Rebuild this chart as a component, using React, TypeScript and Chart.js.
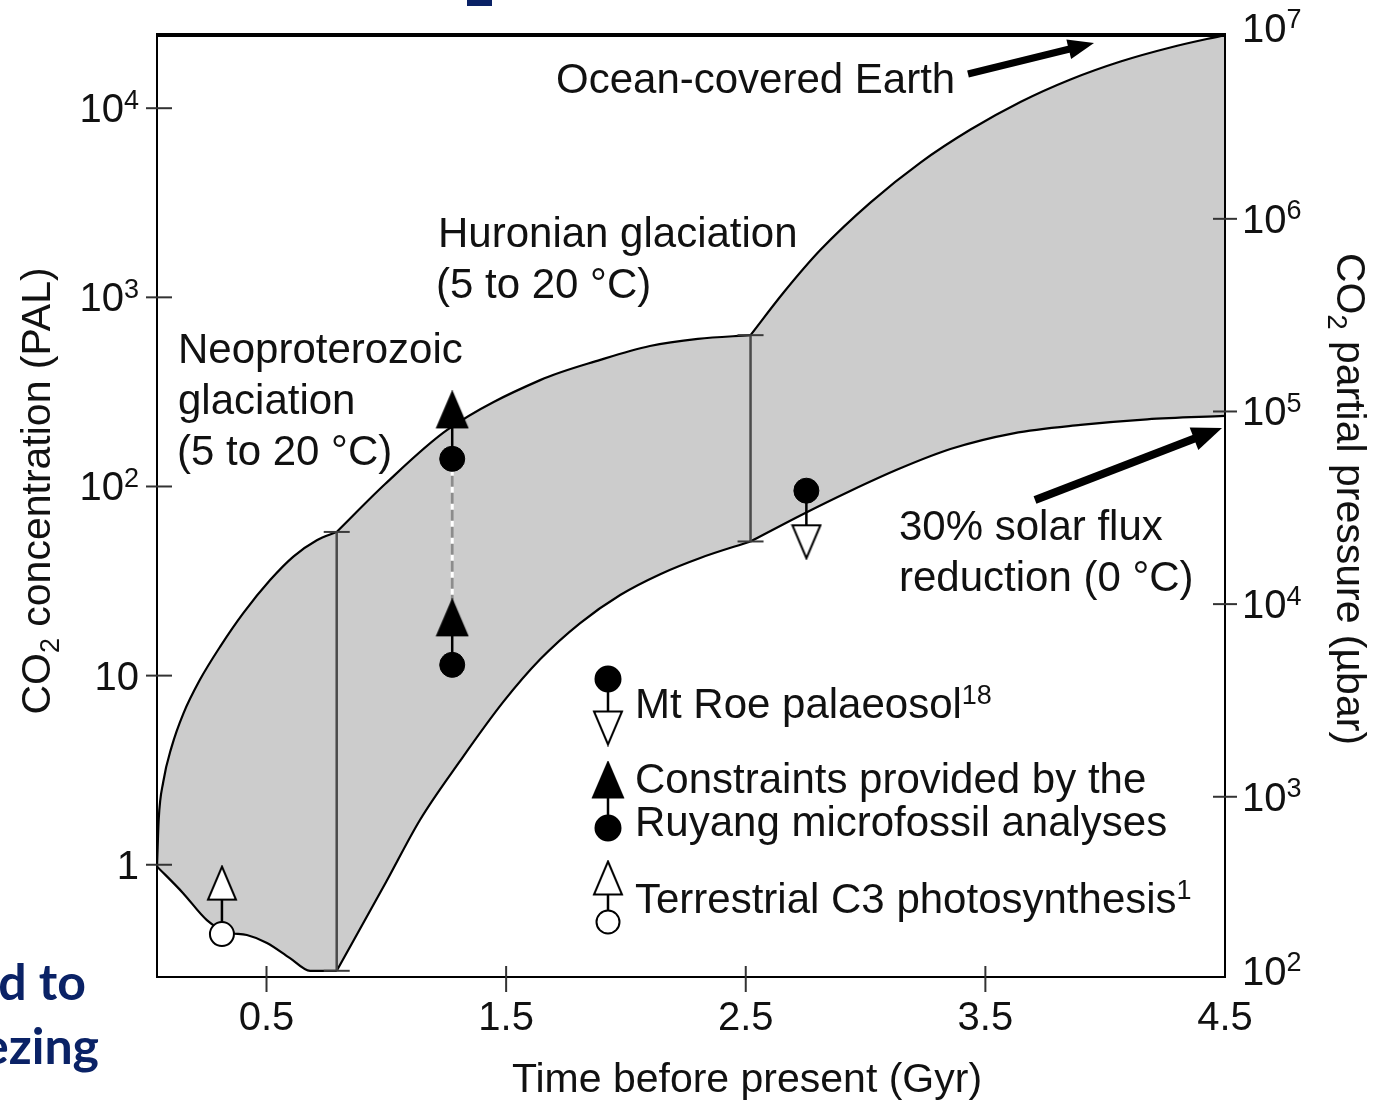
import React, { useEffect, useRef } from 'react';
import { Chart, registerables } from 'chart.js';

Chart.register(...registerables);

const W = 1373;
const H = 1101;
const FONT = '"Liberation Sans", Arial, Helvetica, sans-serif';

// ---------- axes ----------
const timeMin = 0.043;
const timeMax = 4.5;
const palMin = 0.255;
const palMax = 24380;
const ubarMin = 116;
const ubarMax = 9.0e6;

const timeTicks = [0.5, 1.5, 2.5, 3.5, 4.5];
const timeTickLabels = ['0.5', '1.5', '2.5', '3.5', '4.5'];
const palTicks = [1, 10, 100, 1000, 10000];
const palTickBases = ['1', '10', '10', '10', '10'];
const palTickExps = ['', '', '2', '3', '4'];
const ubarTicks = [1e3, 1e4, 1e5, 1e6];
const ubarTickExps = ['3', '4', '5', '6'];
const ubarTopExp = '7';
const ubarBottomExp = '2';

// ---------- CO2 band (PAL) ----------
const upper1Time = [0.043, 0.05, 0.069, 0.104, 0.153, 0.222, 0.306, 0.403, 0.515, 0.612, 0.71, 0.793];
const upper1Pal = [0.98, 1.73, 2.74, 4.2, 6.3, 9.5, 14.2, 21.4, 32, 42.6, 52, 57.5];
const lower1Time = [0.043, 0.151, 0.251, 0.335, 0.418, 0.502, 0.598, 0.682, 0.793];
const lower1Pal = [0.98, 0.71, 0.51, 0.44, 0.425, 0.386, 0.321, 0.275, 0.275];

const upper2Time = [0.793, 0.995, 1.254, 1.642, 1.893, 2.1, 2.3, 2.52];
const upper2Pal = [57.5, 103, 199, 365, 467, 553, 603, 631];
const lower2Time = [0.793, 0.999, 1.141, 1.308, 1.488, 1.642, 1.809, 1.976, 2.143, 2.31, 2.52];
const lower2Pal = [0.275, 0.81, 1.73, 3.54, 7.26, 12.2, 18.97, 26.7, 34.4, 41.9, 51.2];

const upper3Time = [2.52, 2.657, 2.811, 3.02, 3.229, 3.438, 3.646, 3.855, 4.064, 4.272, 4.5];
const upper3Pal = [631, 1057, 1778, 3170, 5160, 7710, 10790, 14190, 17660, 20950, 24380];
const lower3Time = [2.52, 2.728, 2.936, 3.145, 3.354, 3.617, 3.897, 4.175, 4.5];
const lower3Pal = [51.2, 70.3, 94.7, 124.8, 157.8, 191, 211.5, 226.5, 236];

// vertical boundaries of the band
const boundTime = [0.793, 2.52];
const boundUpper = [57.5, 631];
const boundLower = [0.275, 51.2];

// ---------- constraints ----------
const c3Time = 0.314;
const c3TrianglePal = 0.8;
const c3CirclePal = 0.43;

const ruyangTime = 1.275;
const ruyangTriHighPal = 254;
const ruyangCircHighPal = 140;
const ruyangTriLowPal = 20.2;
const ruyangCircLowPal = 11.4;

const mtRoeTime = 2.753;
const mtRoeCirclePal = 95;
const mtRoeTrianglePal = 51;

const toXY = (xs: number[], ys: number[]) => xs.map((x, i) => ({ x, y: ys[i] }));

function makeTriangle(w: number, h: number, filled: boolean, down: boolean) {
  const lw = 2;
  const c = document.createElement('canvas');
  c.width = w + lw * 2;
  c.height = h + lw * 2;
  const g = c.getContext('2d')!;
  g.beginPath();
  if (!down) {
    g.moveTo(c.width / 2, lw);
    g.lineTo(c.width - lw, c.height - lw);
    g.lineTo(lw, c.height - lw);
  } else {
    g.moveTo(lw, lw);
    g.lineTo(c.width - lw, lw);
    g.lineTo(c.width / 2, c.height - lw);
  }
  g.closePath();
  g.fillStyle = filled ? '#000' : '#fff';
  g.fill();
  g.lineWidth = lw;
  g.strokeStyle = '#000';
  g.stroke();
  return c;
}

function drawSup(
  ctx: CanvasRenderingContext2D,
  base: string,
  exp: string,
  x: number,
  baseline: number,
  align: 'left' | 'right' | 'center',
  size: number,
  supSize: number,
) {
  ctx.font = `${size}px ${FONT}`;
  const wb = ctx.measureText(base).width;
  ctx.font = `${supSize}px ${FONT}`;
  const we = exp ? ctx.measureText(exp).width : 0;
  const total = wb + we;
  const left = align === 'left' ? x : align === 'right' ? x - total : x - total / 2;
  ctx.textAlign = 'left';
  ctx.textBaseline = 'alphabetic';
  ctx.font = `${size}px ${FONT}`;
  ctx.fillText(base, left, baseline);
  if (exp) {
    ctx.font = `${supSize}px ${FONT}`;
    ctx.fillText(exp, left + wb, baseline - size * 0.34);
  }
}

function drawArrow(
  ctx: CanvasRenderingContext2D,
  x1: number, y1: number, x2: number, y2: number,
  shaft: number, headLen: number, headHalf: number,
) {
  const ang = Math.atan2(y2 - y1, x2 - x1);
  const bx = x2 - Math.cos(ang) * headLen;
  const by = y2 - Math.sin(ang) * headLen;
  ctx.lineWidth = shaft;
  ctx.lineCap = 'butt';
  ctx.beginPath();
  ctx.moveTo(x1, y1);
  ctx.lineTo(bx + Math.cos(ang) * 2, by + Math.sin(ang) * 2);
  ctx.stroke();
  const nx = -Math.sin(ang);
  const ny = Math.cos(ang);
  ctx.beginPath();
  ctx.moveTo(x2, y2);
  ctx.lineTo(bx + nx * headHalf, by + ny * headHalf);
  ctx.lineTo(bx - nx * headHalf, by - ny * headHalf);
  ctx.closePath();
  ctx.fill();
}

export default function App() {
  const ref = useRef<HTMLCanvasElement>(null);

  useEffect(() => {
    const canvas = ref.current;
    if (!canvas) return;

    const openTriUp = makeTriangle(28, 33, false, false);
    const openTriDown = makeTriangle(28, 33, false, true);
    const filledTriUp = makeTriangle(30, 35, true, false);

    const seg = (xs: number[], ys: number[], extra: any) => ({
      type: 'line',
      data: toXY(xs, ys),
      borderColor: '#000',
      borderWidth: 2.2,
      pointRadius: 0,
      cubicInterpolationMode: 'monotone',
      yAxisID: 'y',
      order: 10,
      fill: false,
      ...extra,
    });

    const bound = (i: number) => ({
      type: 'line',
      data: [
        { x: boundTime[i], y: boundUpper[i] },
        { x: boundTime[i], y: boundLower[i] },
      ],
      borderColor: '#4a4a4a',
      borderWidth: 2.5,
      pointStyle: 'line',
      pointRadius: 13,
      pointBorderWidth: 2,
      pointBorderColor: '#3a3a3a',
      tension: 0,
      yAxisID: 'y',
      order: 8,
      fill: false,
    });

    const connector = (x: number, a: number, b: number, extra: any = {}) => ({
      type: 'line',
      data: [{ x, y: a }, { x, y: b }],
      borderColor: '#000',
      borderWidth: 2.5,
      pointRadius: 0,
      tension: 0,
      yAxisID: 'y',
      order: 5,
      fill: false,
      ...extra,
    });

    const markers = (pts: { x: number; y: number }[], style: any, radius: number, bg: string, extra: any = {}) => ({
      type: 'line',
      data: pts,
      showLine: false,
      pointStyle: style,
      pointRadius: radius,
      pointBackgroundColor: bg,
      pointBorderColor: '#000',
      pointBorderWidth: 2,
      yAxisID: 'y',
      order: 0,
      fill: false,
      ...extra,
    });

    const datasets: any[] = [
      seg(upper1Time, upper1Pal, { fill: 1, backgroundColor: '#cccccc' }),
      seg(lower1Time, lower1Pal, {}),
      seg(upper2Time, upper2Pal, { fill: 3, backgroundColor: '#cccccc' }),
      seg(lower2Time, lower2Pal, {}),
      seg(upper3Time, upper3Pal, { fill: 5, backgroundColor: '#cccccc' }),
      seg(lower3Time, lower3Pal, {}),
      bound(0),
      bound(1),
      connector(c3Time, c3TrianglePal, c3CirclePal),
      connector(ruyangTime, ruyangTriHighPal, ruyangCircHighPal),
      connector(ruyangTime, ruyangCircHighPal, ruyangTriLowPal, { borderColor: '#ffffff', borderWidth: 3, order: 6 }),
      connector(ruyangTime, ruyangCircHighPal, ruyangTriLowPal, { borderColor: '#8c8c8c', borderWidth: 3, borderDash: [11, 6], order: 5 }),
      connector(ruyangTime, ruyangTriLowPal, ruyangCircLowPal),
      connector(mtRoeTime, mtRoeCirclePal, mtRoeTrianglePal),
      markers([{ x: c3Time, y: c3CirclePal }], 'circle', 12, '#ffffff'),
      markers([{ x: c3Time, y: c3TrianglePal }], openTriUp, 15, '#ffffff'),
      markers(
        [
          { x: ruyangTime, y: ruyangCircHighPal },
          { x: ruyangTime, y: ruyangCircLowPal },
          { x: mtRoeTime, y: mtRoeCirclePal },
        ],
        'circle', 12.5, '#000000', { pointBorderWidth: 1 },
      ),
      markers(
        [
          { x: ruyangTime, y: ruyangTriHighPal },
          { x: ruyangTime, y: ruyangTriLowPal },
        ],
        filledTriUp, 15, '#000000',
      ),
      markers([{ x: mtRoeTime, y: mtRoeTrianglePal }], openTriDown, 15, '#ffffff'),
    ];

    const overlay = {
      id: 'overlay',
      afterDatasetsDraw(chart: any) {
        const { ctx, chartArea: a, scales } = chart;
        const xs = scales.x;
        const ys = scales.y;
        const y2 = scales.y2;
        ctx.save();
        ctx.fillStyle = '#000';
        ctx.strokeStyle = '#000';

        // frame
        ctx.lineWidth = 2;
        ctx.beginPath();
        ctx.moveTo(a.left, a.top);
        ctx.lineTo(a.left, a.bottom);
        ctx.lineTo(a.right, a.bottom);
        ctx.lineTo(a.right, a.top);
        ctx.stroke();
        ctx.lineWidth = 4;
        ctx.beginPath();
        ctx.moveTo(a.left - 1, a.top);
        ctx.lineTo(a.right + 1, a.top);
        ctx.stroke();

        // ticks
        ctx.lineWidth = 2;
        ctx.strokeStyle = '#333';
        const seg2 = (x1: number, y1: number, x2: number, y2_: number) => {
          ctx.beginPath();
          ctx.moveTo(x1, y1);
          ctx.lineTo(x2, y2_);
          ctx.stroke();
        };
        palTicks.forEach((v) => {
          const y = ys.getPixelForValue(v);
          seg2(a.left - 11, y, a.left + 15, y);
        });
        timeTicks.forEach((v) => {
          if (v >= timeMax) return;
          const x = xs.getPixelForValue(v);
          seg2(x, a.bottom - 11, x, a.bottom + 15);
        });
        ubarTicks.forEach((v) => {
          const y = y2.getPixelForValue(v);
          seg2(a.right - 12, y, a.right + 12, y);
        });

        // tick labels
        ctx.fillStyle = '#111';
        palTicks.forEach((v, i) => {
          const y = ys.getPixelForValue(v);
          drawSup(ctx, palTickBases[i], palTickExps[i], a.left - 18, y + 14, 'right', 40, 27);
        });
        timeTicks.forEach((v, i) => {
          const x = xs.getPixelForValue(v);
          drawSup(ctx, timeTickLabels[i], '', x, a.bottom + 53, 'center', 40, 27);
        });
        ubarTicks.forEach((v, i) => {
          const y = y2.getPixelForValue(v);
          drawSup(ctx, '10', ubarTickExps[i], a.right + 17, y + 14, 'left', 40, 27);
        });
        drawSup(ctx, '10', ubarTopExp, a.right + 17, a.top + 7, 'left', 40, 27);
        drawSup(ctx, '10', ubarBottomExp, a.right + 17, a.bottom + 8, 'left', 40, 27);

        // axis titles
        const titleSize = 41;
        const subSize = 27;
        const drawCO2Title = (rest: string) => {
          ctx.font = `${titleSize}px ${FONT}`;
          const wCO = ctx.measureText('CO').width;
          const wRest = ctx.measureText(rest).width;
          ctx.font = `${subSize}px ${FONT}`;
          const w2 = ctx.measureText('2').width;
          const total = wCO + w2 + wRest;
          const x0 = -total / 2;
          ctx.textAlign = 'left';
          ctx.textBaseline = 'alphabetic';
          ctx.font = `${titleSize}px ${FONT}`;
          ctx.fillText('CO', x0, 0);
          ctx.font = `${subSize}px ${FONT}`;
          ctx.fillText('2', x0 + wCO, 9);
          ctx.font = `${titleSize}px ${FONT}`;
          ctx.fillText(rest, x0 + wCO + w2, 0);
        };
        ctx.save();
        ctx.translate(50, 491);
        ctx.rotate(-Math.PI / 2);
        drawCO2Title(' concentration (PAL)');
        ctx.restore();

        ctx.save();
        ctx.translate(1337, 499);
        ctx.rotate(Math.PI / 2);
        drawCO2Title(' partial pressure (\u00b5bar)');
        ctx.restore();

        ctx.font = `${titleSize}px ${FONT}`;
        ctx.textAlign = 'center';
        ctx.fillText('Time before present (Gyr)', 747, 1092);

        // annotations
        ctx.textAlign = 'left';
        ctx.font = `42px ${FONT}`;
        ctx.fillText('Ocean-covered Earth', 556, 93);
        ctx.fillText('Huronian glaciation', 438, 247);
        ctx.fillText('(5 to 20 \u00b0C)', 436, 298);
        ctx.fillText('Neoproterozoic', 178, 363);
        ctx.fillText('glaciation', 178, 414);
        ctx.fillText('(5 to 20 \u00b0C)', 177, 465);
        ctx.fillText('30% solar flux', 899, 540);
        ctx.fillText('reduction (0 \u00b0C)', 899, 591);

        ctx.fillStyle = '#000';
        ctx.strokeStyle = '#000';
        drawArrow(ctx, 968, 74, 1094, 43, 7, 26, 10);
        drawArrow(ctx, 1035, 500, 1222, 428, 8, 30, 12);

        // legend
        const lx = 608;
        ctx.lineWidth = 2.5;
        ctx.strokeStyle = '#000';
        seg2(lx, 679, lx, 728);
        seg2(lx, 780, lx, 828);
        seg2(lx, 878, lx, 922);
        const circle = (cx: number, cy: number, r: number, filled: boolean) => {
          ctx.beginPath();
          ctx.arc(cx, cy, r, 0, Math.PI * 2);
          ctx.fillStyle = filled ? '#000' : '#fff';
          ctx.fill();
          ctx.lineWidth = 2;
          ctx.strokeStyle = '#000';
          ctx.stroke();
        };
        const img = (c: HTMLCanvasElement, cx: number, cy: number) => {
          ctx.drawImage(c, cx - c.width / 2, cy - c.height / 2);
        };
        circle(lx, 679, 12.5, true);
        img(openTriDown, lx, 728);
        img(filledTriUp, lx, 780);
        circle(lx, 828, 12.5, true);
        img(openTriUp, lx, 878);
        circle(lx, 922, 11.5, false);

        ctx.fillStyle = '#111';
        drawSup(ctx, 'Mt Roe palaeosol', '18', 635, 718, 'left', 42, 27);
        drawSup(ctx, 'Constraints provided by the', '', 635, 793, 'left', 42, 27);
        drawSup(ctx, 'Ruyang microfossil analyses', '', 635, 836, 'left', 42, 27);
        drawSup(ctx, 'Terrestrial C3 photosynthesis', '1', 635, 913, 'left', 42, 27);

        // slide text fragments
        ctx.fillStyle = '#0a2266';
        ctx.font = `bold 50px Lato, "Open Sans", sans-serif`;
        ctx.textAlign = 'right';
        ctx.fillText('d to', 86, 1000);
        ctx.fillText('ezing', 99, 1064);
        ctx.fillRect(467, 0, 25, 6);

        ctx.restore();
      },
    };

    const chart = new Chart(canvas, {
      type: 'line',
      data: { datasets },
      options: {
        animation: false,
        responsive: false,
        maintainAspectRatio: false,
        events: [],
        layout: { padding: { left: 157, top: 35, right: W - 1225, bottom: H - 977 } },
        plugins: {
          legend: { display: false },
          tooltip: { enabled: false },
          filler: { drawTime: 'beforeDatasetsDraw' },
        },
        scales: {
          x: { type: 'linear', min: timeMin, max: timeMax, display: false },
          y: { type: 'logarithmic', min: palMin, max: palMax, display: false },
          y2: { type: 'logarithmic', min: ubarMin, max: ubarMax, display: false, position: 'right' },
        },
      } as any,
      plugins: [overlay],
    } as any);

    return () => chart.destroy();
  }, []);

  return (
    <div style={{ position: 'absolute', left: 0, top: 0, width: W, height: H, background: '#fff', overflow: 'hidden' }}>
      <canvas ref={ref} width={W} height={H} style={{ display: 'block', width: W, height: H }} />
    </div>
  );
}
